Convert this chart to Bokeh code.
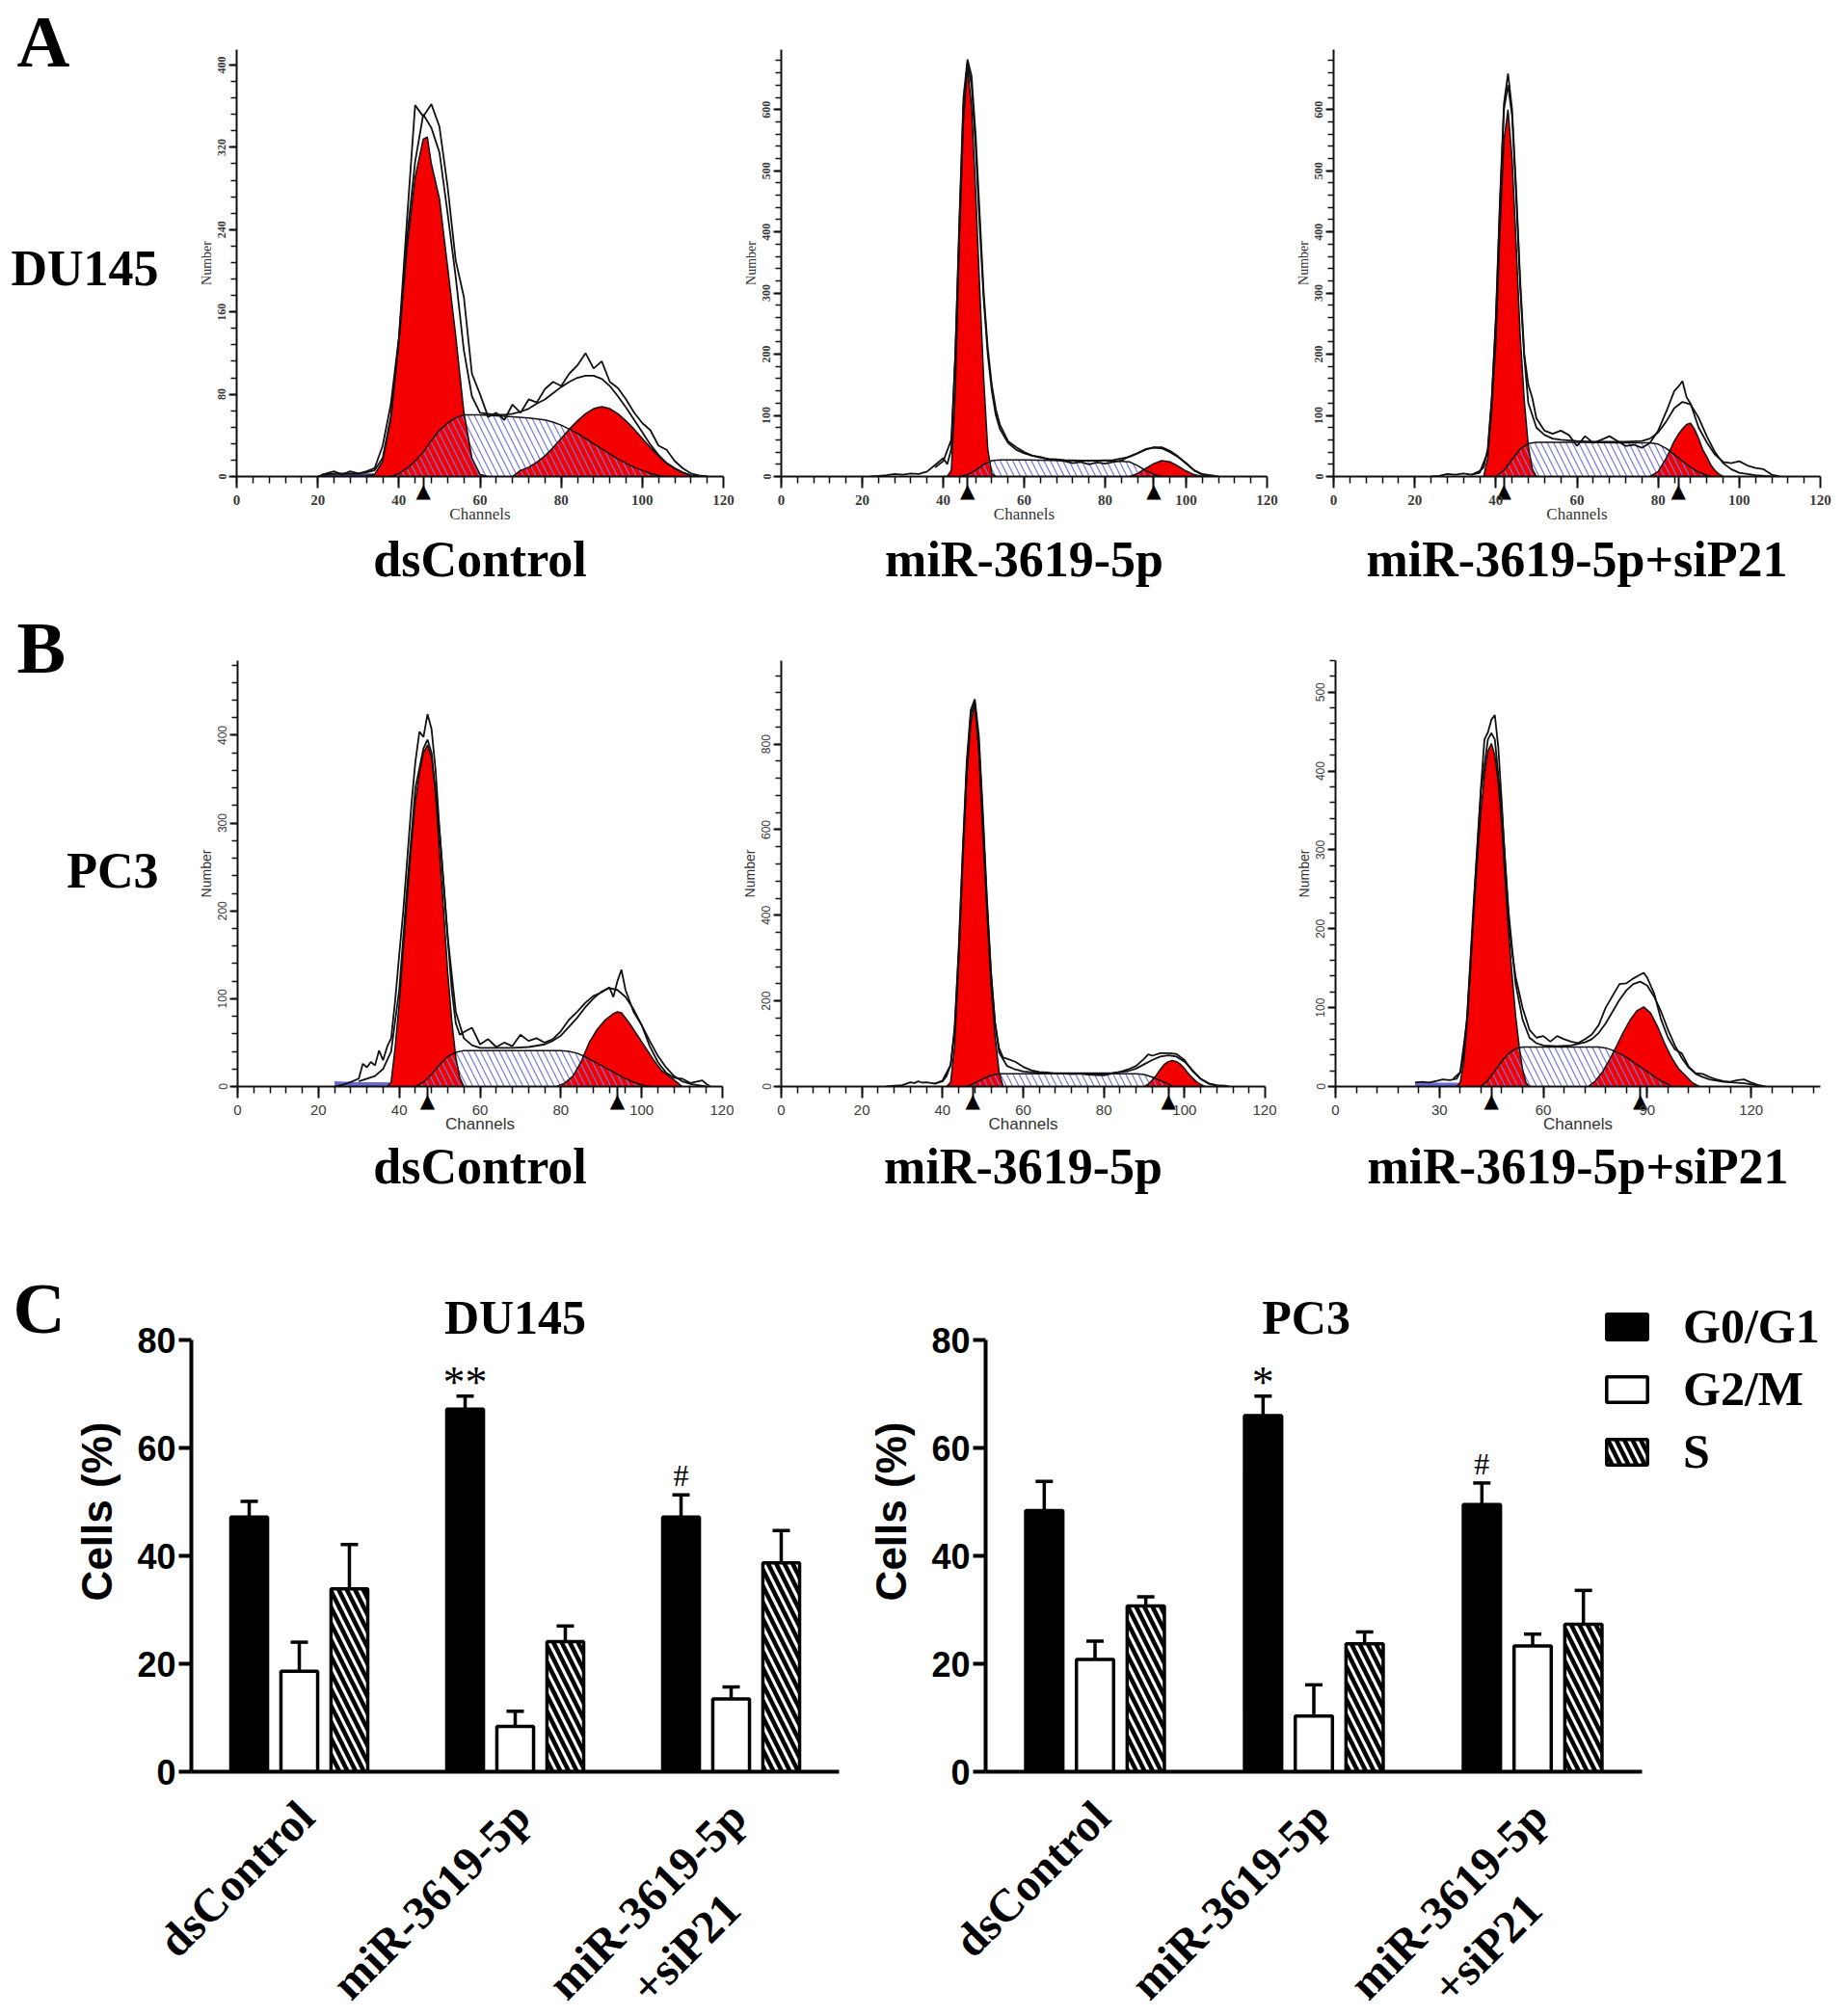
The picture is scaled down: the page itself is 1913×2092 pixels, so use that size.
import math
from bokeh.plotting import figure
from bokeh.layouts import row, column
from bokeh.models import (Range1d, SingleIntervalTicker, FixedTicker, Legend, LinearAxis, Title,
                          LegendItem, Whisker, ColumnDataSource, TeeHead)
from bokeh.core.properties import value
from bokeh.embed import file_html
from bokeh.resources import INLINE

# ------------------------------------------------------------------ data
# Panel A1  DU145 dsControl
A1_raw_x = list(range(20, 117, 2))
A1_raw_y = [0, 3, 5, 2, 5, 3, 5, 8, 30, 70, 135, 250, 361, 350, 362, 340, 282, 210, 175, 100, 80, 58, 62, 55, 70,
            62, 75, 72, 85, 92, 88, 100, 108, 120, 105, 112, 92, 86, 75, 62, 52, 45, 30, 26, 15, 8, 3, 1, 0]
A1_fit_x = list(range(20, 117, 2))
A1_fit_y = [0, 2, 3, 3, 3, 3, 4, 6, 18, 58, 134, 232, 306, 352, 339, 315, 256, 194, 123, 78, 62, 61, 60, 60, 61,
            63, 66, 71, 75, 81, 87, 92, 96, 98, 98, 95, 88, 78, 67, 55, 43, 31, 21, 13, 8, 4, 1, 0, 0]
A1_g1_x = [32, 34, 36, 38, 40, 42, 44, 46, 47, 48, 50, 52, 54, 56, 58, 60, 62]
A1_g1_y = [0, 2, 15, 56, 130, 222, 291, 328, 330, 304, 270, 204, 137, 63, 18, 2, 0]
A1_s_x = [38, 40, 42, 44, 46, 48, 50, 52, 54, 56, 60, 64, 68, 72, 74, 76, 78, 80, 82, 84, 86, 88, 90, 92, 94, 96,
          98, 100, 102, 104, 106]
A1_s_y = [0, 3, 8, 15, 24, 35, 45, 52, 57, 60, 60, 59, 58, 57, 56, 55, 53, 50, 46, 42, 37, 32, 27, 22, 17, 13,
          9, 6, 3, 1, 0]
A1_g2_x = [68, 70, 72, 74, 76, 78, 80, 82, 84, 86, 88, 90, 92, 94, 96, 98, 100, 102, 104, 106, 108, 110, 112, 114]
A1_g2_y = [0, 6, 9, 14, 20, 28, 37, 46, 54, 61, 66, 68, 66, 61, 54, 46, 37, 28, 20, 13, 8, 4, 1, 0]
A1_deb_x = [21, 28, 34, 38]
A1_deb_y = [3, 3, 3, 0]
A1_marks = [46]

# Panel A2  DU145 miR-3619-5p
A2_raw_x = [22, 24, 26, 28, 30, 32, 34, 36, 38, 40, 41, 42, 43, 44, 45, 46, 47, 48, 49, 50, 51, 52, 53, 54, 56, 58,
            60, 62, 64, 66, 68, 70, 72, 74, 76, 78, 80, 82, 84, 86, 88, 90, 92, 94, 96, 98, 100, 102, 104, 106, 108]
A2_raw_y = [0, 1, 2, 4, 3, 5, 4, 8, 19, 30, 20, 45, 200, 420, 620, 682, 655, 560, 430, 300, 210, 150, 110, 85, 58,
            48, 40, 34, 32, 28, 27, 25, 22, 24, 20, 23, 21, 24, 26, 33, 38, 45, 47, 46, 40, 32, 22, 10, 4, 2, 0]
A2_fit_x = [38, 40, 42, 43, 44, 45, 46, 47, 48, 49, 50, 51, 52, 53, 54, 56, 58, 60, 62, 64, 66, 68, 70, 74, 78, 82,
            86, 88, 90, 92, 94, 96, 98, 100, 102, 104, 106]
A2_fit_y = [15, 25, 60, 200, 410, 605, 676, 640, 540, 410, 290, 200, 140, 100, 78, 55, 44, 38, 34, 31, 29, 28, 27,
            26, 26, 27, 32, 38, 44, 48, 48, 42, 33, 21, 10, 3, 0]
A2_g1_x = [40, 41, 42, 43, 44, 45, 46, 47, 48, 49, 50, 51, 52, 53]
A2_g1_y = [0, 0, 10, 140, 390, 580, 670, 605, 469, 310, 160, 45, 5, 0]
A2_s_x = [44, 46, 48, 50, 52, 54, 60, 70, 80, 84, 86, 88, 90, 92, 94]
A2_s_y = [0, 3, 10, 20, 26, 27, 27, 26, 26, 25, 24, 18, 10, 4, 0]
A2_g2_x = [86, 88, 90, 92, 94, 96, 98, 100, 102, 104]
A2_g2_y = [0, 5, 13, 21, 26, 24, 17, 9, 3, 0]
A2_marks = [46, 92]

# Panel A3  DU145 miR-3619-5p+siP21
A3_raw_x = [24, 26, 28, 30, 32, 34, 36, 37, 38, 39, 40, 41, 42, 43, 44, 45, 46, 47, 48, 49, 50, 52, 54, 56, 58, 60,
            62, 64, 66, 68, 70, 72, 74, 76, 78, 80, 82, 84, 85, 86, 87, 88, 90, 92, 94, 96, 98, 100, 102, 104, 106,
            108, 110]
A3_raw_y = [0, 1, 4, 3, 5, 3, 9, 15, 45, 130, 260, 450, 610, 659, 600, 470, 320, 200, 150, 128, 95, 75, 70, 75, 68,
            50, 66, 55, 60, 66, 58, 50, 52, 47, 55, 75, 106, 140, 147, 156, 130, 119, 80, 56, 36, 24, 22, 25, 18, 14,
            12, 3, 0]
A3_fit_x = [34, 36, 38, 39, 40, 41, 42, 43, 44, 45, 46, 47, 48, 50, 52, 54, 56, 60, 64, 68, 72, 76, 78, 80, 82, 84,
            86, 88, 90, 92, 94, 96, 98, 100, 104, 108]
A3_fit_y = [3, 6, 40, 125, 255, 440, 600, 640, 590, 460, 310, 195, 120, 80, 68, 62, 60, 58, 57, 57, 57, 58, 62, 72,
            90, 112, 122, 118, 96, 66, 40, 22, 12, 6, 2, 0]
A3_g1_x = [37, 38, 39, 40, 41, 42, 43, 44, 45, 46, 47, 48, 49, 50]
A3_g1_y = [0, 30, 110, 219, 400, 550, 600, 520, 380, 230, 125, 50, 12, 0]
A3_s_x = [40, 42, 44, 46, 48, 50, 60, 70, 78, 80, 82, 84, 86, 88, 90, 92, 93]
A3_s_y = [0, 10, 28, 45, 54, 56, 56, 55, 55, 53, 46, 36, 25, 15, 7, 2, 0]
A3_g2_x = [78, 80, 81, 82, 83, 84, 85, 86, 87, 88, 89, 90, 91, 92, 93, 94, 95, 96]
A3_g2_y = [0, 8, 19, 30, 44, 58, 69, 78, 85, 87, 77, 62, 44, 32, 19, 10, 4, 0]
A3_marks = [42, 85]

# Panel B1  PC3 dsControl
B1_raw_x = [24, 26, 28, 30, 31, 32, 33, 34, 35, 36, 37, 38, 39, 40, 41, 42, 43, 44, 45, 46, 47, 48, 49, 50, 51, 52,
            53, 54, 55, 56, 58, 60, 62, 64, 66, 68, 70, 72, 74, 76, 78, 80, 82, 84, 86, 88, 90, 92, 93, 94, 95, 96,
            98, 100, 102, 104, 106, 108, 110, 112, 114, 115, 116, 117]
B1_raw_y = [0, 2, 5, 9, 26, 22, 28, 24, 41, 30, 45, 55, 98, 150, 200, 260, 320, 370, 404, 398, 424, 407, 360, 290,
            230, 170, 110, 72, 59, 62, 67, 48, 54, 45, 50, 46, 59, 52, 55, 50, 54, 63, 76, 85, 95, 103, 107, 113, 102,
            120, 133, 110, 85, 70, 46, 28, 16, 10, 9, 4, 6, 7, 3, 0]
B1_fit_x = [30, 34, 36, 38, 40, 42, 44, 46, 47, 48, 50, 52, 54, 56, 58, 60, 64, 68, 72, 76, 78, 80, 82, 84, 86, 88,
            90, 92, 94, 96, 98, 100, 102, 104, 106, 108, 110, 112, 116]
B1_fit_y = [6, 12, 20, 40, 110, 230, 340, 385, 395, 380, 290, 170, 85, 55, 47, 44, 44, 44, 45, 48, 52, 58, 68, 78,
            90, 100, 108, 112, 110, 102, 88, 70, 52, 35, 22, 12, 6, 3, 0]
B1_g1_x = [37, 38, 39, 40, 41, 42, 43, 44, 45, 46, 47, 48, 49, 50, 51, 52, 53, 54, 55, 56]
B1_g1_y = [0, 5, 45, 95, 155, 215, 275, 325, 357, 380, 389, 375, 335, 265, 200, 130, 75, 33, 10, 0]
B1_s_x = [44, 46, 48, 50, 52, 54, 56, 60, 70, 80, 82, 84, 86, 88, 90, 92, 94, 96, 98, 100, 102]
B1_s_y = [0, 5, 14, 25, 34, 39, 41, 41, 41, 41, 40, 38, 34, 29, 24, 19, 14, 9, 5, 2, 0]
B1_g2_x = [79, 81, 83, 85, 87, 89, 91, 93, 94, 95, 97, 99, 101, 103, 105, 107, 109, 110]
B1_g2_y = [0, 4, 12, 28, 50, 65, 76, 83, 85, 84, 72, 58, 44, 30, 18, 11, 4, 0]
B1_deb_x = [24, 30, 36, 42, 45]
B1_deb_y = [6, 5, 5, 4, 0]
B1_marks = [47, 94]

# Panel B2  PC3 miR-3619-5p
B2_raw_x = [26, 28, 30, 32, 33, 34, 35, 36, 38, 40, 41, 42, 43, 44, 45, 46, 47, 48, 49, 50, 51, 52, 53, 54, 55, 56,
            58, 60, 62, 64, 66, 68, 70, 72, 74, 76, 78, 80, 82, 84, 86, 88, 90, 91, 92, 94, 96, 98, 100, 102, 104,
            106, 108, 110, 111]
B2_raw_y = [0, 2, 3, 10, 8, 12, 9, 10, 7, 12, 25, 50, 140, 320, 550, 760, 880, 905, 820, 640, 440, 270, 150, 90, 68,
            65, 58, 46, 38, 34, 33, 30, 30, 29, 30, 28, 27, 26, 30, 34, 40, 48, 65, 75, 72, 78, 78, 76, 62, 36, 18,
            7, 3, 2, 0]
B2_fit_x = [38, 40, 42, 43, 44, 45, 46, 47, 48, 49, 50, 51, 52, 53, 54, 56, 58, 60, 64, 70, 76, 82, 86, 88, 90, 92,
            94, 96, 98, 100, 102, 104, 106, 108, 110]
B2_fit_y = [6, 14, 50, 130, 310, 540, 745, 870, 895, 800, 620, 430, 265, 150, 80, 48, 40, 35, 32, 31, 31, 32, 36,
            42, 52, 62, 70, 73, 70, 58, 38, 18, 7, 2, 0]
B2_g1_x = [41, 42, 43, 44, 45, 46, 47, 48, 49, 50, 51, 52, 53, 54, 55]
B2_g1_y = [0, 10, 95, 290, 520, 720, 850, 895, 780, 590, 410, 240, 120, 35, 0]
B2_s_x = [46, 48, 50, 52, 54, 60, 70, 80, 88, 90, 92, 94, 96, 97]
B2_s_y = [0, 8, 18, 26, 30, 30, 30, 30, 30, 28, 22, 14, 6, 0]
B2_g2_x = [90, 91, 92, 93, 94, 95, 96, 97, 98, 99, 100, 101, 102, 103, 104, 105]
B2_g2_y = [0, 5, 15, 26, 40, 52, 58, 61, 58, 52, 42, 30, 20, 11, 5, 0]
B2_marks = [47.5, 96]

# Panel B3  PC3 miR-3619-5p+siP21
B3_raw_x = [23, 25, 27, 29, 31, 33, 35, 36, 37, 38, 39, 40, 41, 42, 43, 44, 45, 46, 47, 48, 49, 50, 51, 52, 54, 56,
            58, 60, 62, 64, 66, 68, 70, 72, 74, 76, 78, 80, 82, 84, 86, 88, 89, 90, 92, 94, 96, 98, 100, 102, 104,
            106, 108, 110, 112, 114, 116, 118, 120, 122, 124]
B3_raw_y = [5, 6, 5, 7, 9, 8, 10, 18, 40, 90, 165, 240, 310, 380, 440, 449, 465, 471, 430, 360, 280, 210, 170, 139,
            100, 72, 62, 64, 57, 64, 60, 57, 55, 60, 66, 78, 100, 115, 130, 131, 137, 142, 144, 138, 118, 85, 62, 47,
            42, 25, 17, 16, 12, 9, 7, 6, 8, 9, 5, 2, 0]
B3_fit_x = [34, 36, 38, 40, 42, 44, 45, 46, 48, 50, 52, 54, 56, 58, 60, 64, 68, 72, 74, 76, 78, 80, 82, 84, 86, 88,
            90, 92, 94, 96, 98, 100, 102, 104, 106, 108, 112, 118, 124]
B3_fit_y = [10, 18, 85, 235, 375, 440, 448, 440, 350, 220, 130, 85, 62, 55, 52, 51, 52, 56, 60, 68, 80, 95, 110,
            122, 130, 133, 128, 114, 95, 72, 52, 36, 24, 16, 12, 9, 6, 4, 0]
B3_g1_x = [35, 36, 37, 38, 39, 40, 41, 42, 43, 44, 45, 46, 47, 48, 49, 50, 51, 52, 53, 54, 55, 56]
B3_g1_y = [0, 5, 30, 80, 150, 225, 290, 350, 395, 425, 435, 420, 385, 330, 260, 195, 140, 90, 52, 22, 5, 0]
B3_s_x = [42, 44, 46, 48, 50, 52, 54, 60, 70, 76, 78, 80, 82, 84, 86, 88, 90, 92, 94, 96, 97]
B3_s_y = [0, 8, 20, 32, 42, 48, 50, 50, 50, 50, 49, 46, 42, 37, 31, 25, 19, 13, 7, 3, 0]
B3_g2_x = [73, 75, 77, 79, 81, 83, 85, 87, 89, 91, 93, 95, 97, 99, 101, 103, 105]
B3_g2_y = [0, 7, 18, 33, 50, 68, 84, 96, 101, 93, 76, 55, 37, 23, 14, 5, 0]
B3_deb_x = [23, 30, 36, 42, 44]
B3_deb_y = [6, 5, 5, 4, 0]
B3_marks = [45, 88]

# Panel C  bar charts
groups = ["dsControl", "miR-3619-5p", "miR-3619-5p\n+siP21"]
phases = ["G0/G1", "G2/M", "S"]
DU_G0 = [47.2, 67.2, 47.2]
DU_G0_err = [2.9, 2.4, 4.1]
DU_G2 = [18.6, 8.4, 13.5]
DU_G2_err = [5.4, 2.8, 2.2]
DU_S = [33.9, 24.1, 38.7]
DU_S_err = [8.2, 2.9, 6.0]
PC_G0 = [48.4, 66.0, 49.5]
PC_G0_err = [5.4, 3.6, 4.0]
PC_G2 = [20.8, 10.3, 23.3]
PC_G2_err = [3.4, 5.8, 2.2]
PC_S = [30.7, 23.7, 27.3]
PC_S_err = [1.7, 2.2, 6.3]
DU_sig = [(1, "**"), (2, "#")]
PC_sig = [(1, "*"), (2, "#")]

# ------------------------------------------------------------------ style
SERIF = "Liberation Serif"
SANS = "Liberation Sans"
ASC = 0.891            # ascent of Liberation Serif, in em
RED = "#f40000"
HATCH_BLUE = "#7676de"
DEBRIS_BLUE = "#6a6ad6"
INK = "#111111"
HIST_BB = 140


def text_fig(width, frame_h, tb, bb, items):
    p = figure(frame_width=width, frame_height=frame_h, x_range=Range1d(0, width),
               y_range=Range1d(frame_h, 0), x_axis_type=None, y_axis_type=None,
               min_border_left=0, min_border_right=0, min_border_top=tb, min_border_bottom=bb,
               output_backend="svg", toolbar_location=None)
    p.outline_line_color = None
    for x, baseline, t, size, align in items:
        p.text(x=[x], y=[baseline - ASC * size], text=[t], text_font=value(SERIF),
               text_font_style="bold", text_font_size=f"{size}px", text_align=align,
               text_baseline="top", text_color="black")
    return p


def hist_panel(raw_x, raw_y, fit_x, fit_y, g1_x, g1_y, s_x, s_y, g2_x, g2_y, marks,
               deb_x, deb_y, ymax, yint, xmax, xint, tick_max, fw, fh, lb, rb, tb, font,
               title, title_standoff, title_offset, deb_color=DEBRIS_BLUE):
    p = figure(frame_width=fw, frame_height=fh, x_range=Range1d(0, xmax),
               y_range=Range1d(0, ymax), min_border_left=lb, min_border_right=rb,
               min_border_top=tb, min_border_bottom=HIST_BB,
               output_backend="svg", toolbar_location=None)
    p.outline_line_color = None
    p.xgrid.visible = False
    p.ygrid.visible = False
    if deb_x:
        p.varea(x=deb_x, y1=0, y2=deb_y, fill_color=deb_color)
    p.varea(x=g1_x, y1=0, y2=g1_y, fill_color=RED)
    p.varea(x=g2_x, y1=0, y2=g2_y, fill_color=RED)
    p.varea(x=s_x, y1=0, y2=s_y, fill_color=None, hatch_pattern="\\",
            hatch_color=HATCH_BLUE, hatch_weight=1.2, hatch_scale=13)
    for xs, ys in ((g1_x, g1_y), (g2_x, g2_y), (s_x, s_y)):
        p.line(xs, ys, line_color=INK, line_width=1.5)
    p.line(fit_x, fit_y, line_color=INK, line_width=1.8)
    p.line(raw_x, raw_y, line_color=INK, line_width=1.8)

    # axis 1: axis line with its ticks, and the peak markers (G1 / G2 means)
    major = list(range(0, tick_max + 1, xint))
    minor = list(range(0, int(xmax), xint // 5))
    xa = p.xaxis[0]
    xa.ticker = FixedTicker(ticks=sorted(set(major + marks)), minor_ticks=minor)
    overrides = {t: "" for t in major}
    overrides.update({m: "\u25b2" for m in marks})
    xa.major_label_overrides = overrides
    xa.major_label_text_font = "DejaVu Sans"
    xa.major_label_text_font_size = "20px"
    xa.major_label_text_color = "black"
    xa.major_label_standoff = -10
    xa.major_tick_out = 12
    xa.minor_tick_out = 7
    xa.major_tick_in = 0
    xa.minor_tick_in = 0
    xa.axis_line_width = 2
    xa.axis_line_color = INK
    xa.major_tick_line_width = 2
    xa.minor_tick_line_width = 1.5
    xa.major_tick_line_color = INK
    xa.minor_tick_line_color = INK
    xa.bounds = (0, xmax)

    # axis 2: channel numbers and the axis title
    xb = LinearAxis(ticker=SingleIntervalTicker(interval=xint, num_minor_ticks=0))
    xb.axis_line_color = None
    xb.major_tick_line_color = None
    xb.minor_tick_line_color = None
    xb.major_tick_out = 0
    xb.minor_tick_out = 0
    xb.major_label_text_font = font
    xb.major_label_text_font_size = "15px"
    xb.major_label_text_color = "#3a3a3a"
    xb.major_label_text_font_style = "bold" if font == SERIF else "normal"
    xb.major_label_standoff = -10
    xb.axis_label = "Channels"
    xb.axis_label_text_font = font
    xb.axis_label_text_font_size = "17px"
    xb.axis_label_text_font_style = "normal"
    xb.axis_label_text_color = "#333333"
    xb.axis_label_standoff = -3
    p.add_layout(xb, "below")

    ya = p.yaxis[0]
    ya.ticker = SingleIntervalTicker(interval=yint, num_minor_ticks=5)
    ya.axis_label = "Number"
    ya.major_label_orientation = "vertical"
    ya.axis_line_width = 2
    ya.axis_line_color = INK
    ya.major_tick_line_width = 2
    ya.minor_tick_line_width = 1.5
    ya.major_tick_line_color = INK
    ya.minor_tick_line_color = INK
    ya.major_tick_in = 0
    ya.minor_tick_in = 0
    ya.major_tick_out = 8
    ya.minor_tick_out = 6
    ya.major_label_text_font = font
    ya.major_label_text_color = "#3a3a3a"
    ya.major_label_text_font_style = "bold" if font == SERIF else "normal"
    ya.major_label_text_font_size = "12px"
    ya.major_label_standoff = 3
    ya.axis_label_text_font = font
    ya.axis_label_text_font_style = "normal"
    ya.axis_label_text_color = "#333333"
    ya.axis_label_text_font_size = "14px"
    ya.axis_label_standoff = 2

    p.add_layout(Title(text=title, align="center", text_font=SERIF, text_font_style="bold",
                       text_font_size="52px", text_color="black", standoff=title_standoff,
                       offset=title_offset), "below")
    return p


C_TOP_PAD = 92         # px above the 80 tick (room for the title / legend)
C_PLOT = 448           # px between 0 and 80
C_BB = 20
C1_LEFT, C1_UNIT = 198, 224     # page x of the C1 frame, px per group
C2_LEFT, C2_UNIT = 1022, 227


def bar_panel(title, title_x, vals, errs, sig, unit, fw, lb, rb, tb, with_legend):
    fh = C_TOP_PAD + C_PLOT
    p = figure(frame_width=fw, frame_height=fh, x_range=Range1d(-0.5, -0.5 + fw / unit),
               y_range=Range1d(0, 80 + C_TOP_PAD * 80 / C_PLOT),
               min_border_left=lb, min_border_right=rb, min_border_top=tb, min_border_bottom=C_BB,
               output_backend="svg", toolbar_location=None)
    p.outline_line_color = None
    p.xgrid.visible = False
    p.ygrid.visible = False
    offs = [-0.232, 0.0, 0.232]
    fills = ["black", "white", "white"]
    rends = []
    for k in range(3):
        xs = [i + offs[k] for i in range(3)]
        hi = [v + e for v, e in zip(vals[k], errs[k])]
        src = ColumnDataSource(dict(x=xs, top=vals[k], hi=hi))
        kw = {}
        if k == 2:
            kw = dict(hatch_pattern="\\", hatch_color="black", hatch_weight=4.5, hatch_scale=17)
        r = p.vbar(x="x", top="top", width=0.17, source=src, fill_color=fills[k],
                   line_color="black", line_width=3.5, **kw)
        rends.append(r)
        p.add_layout(Whisker(source=src, base="x", lower="top", upper="hi", line_width=3.5,
                             line_color="black", lower_head=None,
                             upper_head=TeeHead(size=18, line_width=3.5, line_color="black")))
    for gi, t in sig:
        star = t.startswith("*")
        p.text(x=[gi + offs[0]], y=[vals[0][gi] + errs[0][gi]], text=[t],
               text_font=value(SERIF), text_font_size="46px" if star else "32px",
               text_align="center", text_baseline="top",
               y_offset=-40 if star else -38, text_color="black")
    p.text(x=[title_x], y=[80], text=[title], y_offset=-52, text_font=value(SERIF),
           text_font_style="bold", text_font_size="50px", text_align="center",
           text_baseline="top", text_color="black")

    xa = p.xaxis[0]
    ya = p.yaxis[0]
    xa.bounds = (-0.5, 2.5)
    xa.ticker = FixedTicker(ticks=[])
    xa.major_tick_out = 0
    xa.major_label_standoff = 0
    ya.ticker = FixedTicker(ticks=[0, 20, 40, 60, 80])
    ya.bounds = (0, 80)
    ya.major_tick_out = 13
    ya.major_tick_in = 0
    ya.major_tick_line_width = 4
    ya.major_tick_line_color = "black"
    ya.major_label_text_font = SANS
    ya.major_label_text_font_size = "36px"
    ya.major_label_text_font_style = "bold"
    ya.major_label_text_color = "black"
    ya.major_label_standoff = 3
    ya.axis_label = "Cells (%)"
    ya.axis_label_text_font = SANS
    ya.axis_label_text_font_size = "44px"
    ya.axis_label_text_font_style = "bold"
    ya.axis_label_text_color = "black"
    ya.axis_label_standoff = 14
    for ax in (xa, ya):
        ax.axis_line_width = 4
        ax.axis_line_color = "black"
    if with_legend:
        legend = Legend(items=[LegendItem(label=phases[k], renderers=[rends[k]]) for k in range(3)],
                        location=(1661 - C2_LEFT, 1838 - 1535), orientation="vertical",
                        label_text_font=SERIF, label_text_font_style="bold",
                        label_text_font_size="50px", label_text_color="black",
                        glyph_width=53, glyph_height=33,
                        label_standoff=32, spacing=7, padding=0, margin=0,
                        border_line_color=None, background_fill_alpha=0)
        p.add_layout(legend)
    return p


def group_names(x0_page, x1_page, frame_left, unit, height, anchor_y):
    # rotated group names under a bar chart, placed with the chart's own group scale
    w = x1_page - x0_page
    p = figure(frame_width=w, frame_height=height,
               x_range=Range1d(-0.5 - (frame_left - x0_page) / unit, -0.5 + (x1_page - frame_left) / unit),
               y_range=Range1d(height, 0), x_axis_type=None, y_axis_type=None, min_border=0,
               output_backend="svg", toolbar_location=None)
    p.outline_line_color = None
    shown = groups[:2] + [groups[2] + "\u00a0" * 6]
    p.text(x=[0, 1, 2], y=[anchor_y] * 3, text=shown, angle=math.pi / 4, x_offset=-12,
           text_font=value(SERIF), text_font_style="bold", text_font_size="48px",
           text_align="right", text_baseline="top", text_color="black")
    return p


ROW_A_TB, ROW_B_TB = 51, 51
A1 = hist_panel(A1_raw_x, A1_raw_y, A1_fit_x, A1_fit_y, A1_g1_x, A1_g1_y, A1_s_x, A1_s_y, A1_g2_x, A1_g2_y,
                A1_marks, A1_deb_x, A1_deb_y, 415, 80, 120, 20, 120, 505, 443, 57, 12, ROW_A_TB, SERIF,
                "dsControl", 8, 0, deb_color="#3b3b70")
A2 = hist_panel(A2_raw_x, A2_raw_y, A2_fit_x, A2_fit_y, A2_g1_x, A2_g1_y, A2_s_x, A2_s_y, A2_g2_x, A2_g2_y,
                A2_marks, None, None, 698, 100, 120, 20, 120, 504, 443, 48, 12, ROW_A_TB, SERIF,
                "miR-3619-5p", 8, 5)
A3 = hist_panel(A3_raw_x, A3_raw_y, A3_fit_x, A3_fit_y, A3_g1_x, A3_g1_y, A3_s_x, A3_s_y, A3_g2_x, A3_g2_y,
                A3_marks, None, None, 698, 100, 120, 20, 120, 505, 443, 57, 17, ROW_A_TB, SERIF,
                "miR-3619-5p+siP21", 8, 11)
B1 = hist_panel(B1_raw_x, B1_raw_y, B1_fit_x, B1_fit_y, B1_g1_x, B1_g1_y, B1_s_x, B1_s_y, B1_g2_x, B1_g2_y,
                B1_marks, B1_deb_x, B1_deb_y, 485, 100, 120, 20, 120, 503, 442, 58, 12, ROW_B_TB, SANS,
                "dsControl", 2, -1)
B2 = hist_panel(B2_raw_x, B2_raw_y, B2_fit_x, B2_fit_y, B2_g1_x, B2_g1_y, B2_s_x, B2_s_y, B2_g2_x, B2_g2_y,
                B2_marks, None, None, 995, 200, 120, 20, 120, 502, 442, 49, 12, ROW_B_TB, SANS,
                "miR-3619-5p", 2, 5)
B3 = hist_panel(B3_raw_x, B3_raw_y, B3_fit_x, B3_fit_y, B3_g1_x, B3_g1_y, B3_s_x, B3_s_y, B3_g2_x, B3_g2_y,
                B3_marks, B3_deb_x, B3_deb_y, 540, 100, 140, 30, 120, 503, 442, 61, 17, ROW_B_TB, SANS,
                "miR-3619-5p+siP21", 2, 18)

row_a_h = ROW_A_TB + 443 + HIST_BB
row_b_h = ROW_B_TB + 442 + HIST_BB
LAB = text_fig(188, row_a_h + row_b_h, 0, 0, [
    (17, 68, "A", 76, "left"),
    (164, 296, "DU145", 52, "right"),
    (17, 697, "B", 76, "left"),
    (164, 921, "PC3", 52, "right"),
])

row_c_top = row_a_h + row_b_h
c_frame_top = 1838 - C_PLOT - C_TOP_PAD
c_tb = c_frame_top - row_c_top
C1 = bar_panel("DU145", 1.0, [DU_G0, DU_G2, DU_S], [DU_G0_err, DU_G2_err, DU_S_err], DU_sig,
               C1_UNIT, 672, 128, 27, c_tb, False)
C2 = bar_panel("PC3", 0.965, [PC_G0, PC_G2, PC_S], [PC_G0_err, PC_G2_err, PC_S_err], PC_sig,
               C2_UNIT, 873, 125, 10, c_tb, True)
LC = text_fig(70, C_TOP_PAD + C_PLOT, c_tb, C_BB, [(13, 1382 - c_frame_top, "C", 75, "left")])

names_top = 1838 + C_BB
names_h = 2088 - names_top
N1 = group_names(0, 897, C1_LEFT, C1_UNIT, names_h, 0)
N2 = group_names(897, 1905, C2_LEFT, C2_UNIT, names_h, 0)

layout = column(row(LAB, column(row(A1, A2, A3), row(B1, B2, B3))), row(LC, C1, C2), row(N1, N2))
open("out.html", "w").write(file_html(layout, INLINE))
